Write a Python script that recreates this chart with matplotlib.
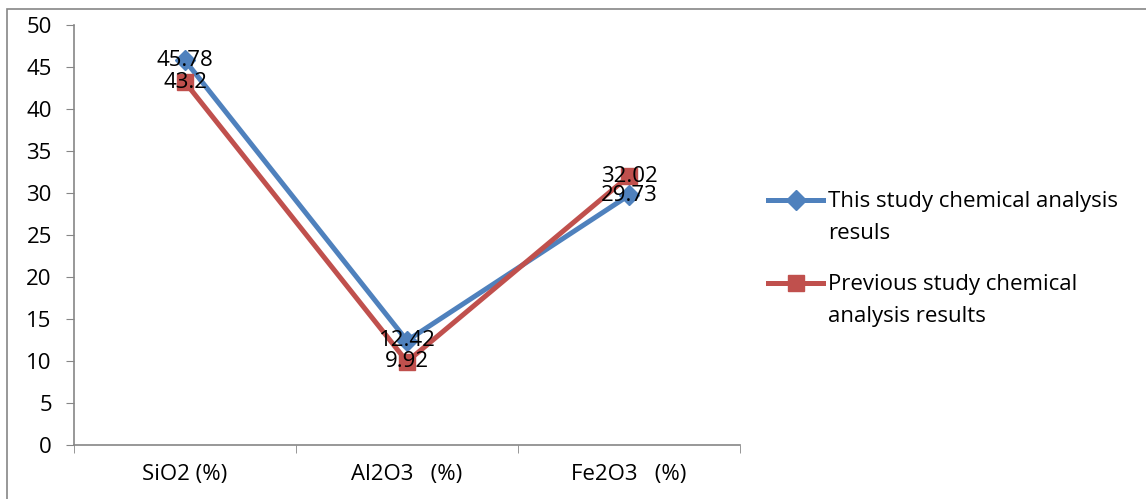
import matplotlib.pyplot as plt
from matplotlib.lines import Line2D
from matplotlib.patches import Rectangle

categories = ['SiO2 (%)', 'Al2O3   (%)', 'Fe2O3   (%)']
this_study = [45.78, 12.42, 29.73]
previous_study = [43.2, 9.92, 32.02]
series_labels = ['This study chemical analysis\nresuls',
                 'Previous study chemical\nanalysis results']

BLUE = '#4F81BD'
RED = '#C0504D'
GREY = '#868686'
FS = 16


def main():
    plt.rcParams['font.family'] = ['Open Sans', 'DejaVu Sans']
    fig = plt.figure(figsize=(11.46, 4.99), dpi=100)
    W, H = 1146, 499
    ax = fig.add_axes([74 / W, 1 - 445 / H, 666 / W, 420 / H])

    x = list(range(len(categories)))
    styles = [(this_study, BLUE, 'D', 10), (previous_study, RED, 's', 11)]
    for values, color, marker, ms in styles:
        ax.plot(x, values, color=color, lw=3.6, marker=marker, ms=ms, zorder=3)
        for xi, v in zip(x, values):
            ax.text(xi, v, f'{v:g}', ha='center', va='center', fontsize=FS, zorder=5)

    ax.set_xlim(-0.5, 2.5)
    ax.set_ylim(0, 50)
    ax.set_yticks(range(0, 51, 5))
    ax.set_xticks(x)
    ax.set_xticklabels(categories)
    ax.set_xticks([-0.5, 0.5, 1.5, 2.5], minor=True)
    ax.tick_params(axis='x', which='major', length=0, pad=14, labelsize=FS)
    ax.tick_params(axis='x', which='minor', length=6, direction='out', color=GREY)
    ax.tick_params(axis='y', length=6, color=GREY, pad=10, labelsize=FS)

    for side in ['top', 'right']:
        ax.spines[side].set_visible(False)
    for side in ['left', 'bottom']:
        ax.spines[side].set_color(GREY)
        ax.spines[side].set_linewidth(1.2)

    # legend drawn by hand: handle sits on the first text line, like Excel
    for (values, color, marker, ms), label, y in zip(styles, series_labels, [200, 283]):
        fy = 1 - y / H
        fig.add_artist(Line2D([768 / W, 823 / W], [fy, fy], color=color, lw=3.6,
                              transform=fig.transFigure))
        fig.add_artist(Line2D([795.5 / W], [fy], color=color, marker=marker, ms=ms,
                              transform=fig.transFigure))
        fig.text(828 / W, 1 - (y - 9) / H, label, fontsize=FS, va='top', ha='left',
                 linespacing=1.7)

    fig.add_artist(Rectangle((7 / W, -0.1), 1.2, 1 - 9 / H + 0.1,
                             transform=fig.transFigure, fill=False,
                             edgecolor=GREY, lw=1.2))

    fig.savefig('out.png', dpi=100)


if __name__ == '__main__':
    main()
